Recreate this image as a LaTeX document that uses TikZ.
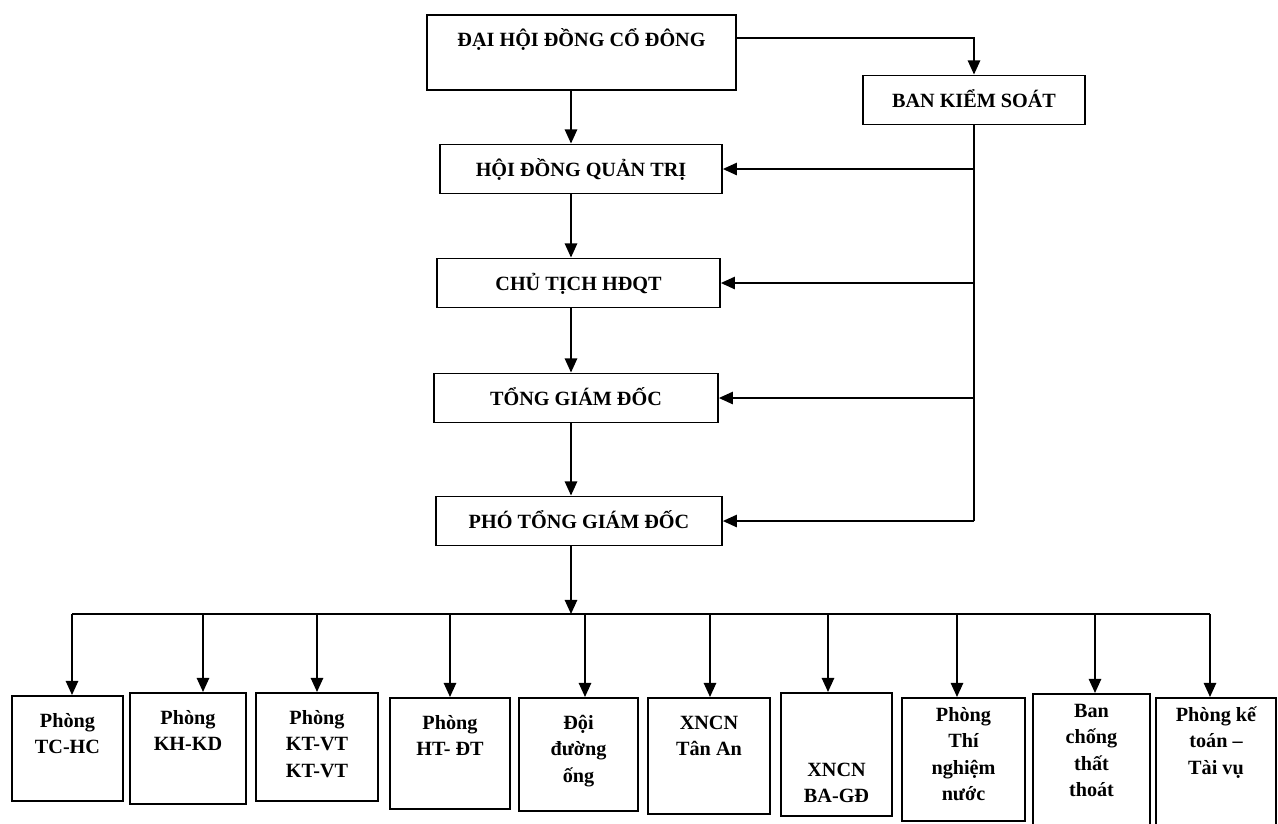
\documentclass[tikz,border=0pt]{standalone}
\usepackage{fontspec}
\setmainfont{Liberation Serif}
\usepackage{tikz}
\usetikzlibrary{arrows.meta,positioning,calc}
\newcommand{\celltext}[3][7.5pt]{\parbox[c][#2][t]{2.1cm}{\centering\vspace*{#1}\strut #3}}

\begin{document}
\begin{tikzpicture}[x=0.02cm,y=-0.02cm,
  font=\fontsize{11.5}{15}\selectfont\bfseries,
  head/.style={draw,line width=1pt,inner sep=0pt,text height=18pt,text depth=10pt},
  unit/.style={draw,line width=1pt,inner sep=0pt,anchor=north},
  line/.style={line width=1pt},
  arr/.style={line width=1pt,-{Triangle[length=8pt,width=7pt]}}]
  \fill[white] (0,0) rectangle (1278,823);
  \useasboundingbox (0,0) rectangle (1278,823);
  \node[head,minimum width=6.18cm,text depth=24.5pt] (dhdcd) at (581.5,52.5) {ĐẠI HỘI ĐỒNG CỔ ĐÔNG};
  \node[head,minimum width=4.44cm] (bks) at (974,100) {BAN KIỂM SOÁT};
  \node[head,minimum width=5.64cm] (hdqt) at (581,169) {HỘI ĐỒNG QUẢN TRỊ};
  \node[head,minimum width=5.66cm] (ct) at (578.5,283) {CHỦ TỊCH HĐQT};
  \node[head,minimum width=5.68cm] (tgd) at (576,398) {TỔNG GIÁM ĐỐC};
  \node[head,minimum width=5.72cm] (ptgd) at (579,521) {PHÓ TỔNG GIÁM ĐỐC};
  \node[unit,minimum width=2.22cm] (tchc) at (67.5,695) {\celltext{2.1cm}{Phòng\\TC-HC}};
  \node[unit,minimum width=2.32cm] (khkd) at (188,692) {\celltext{2.22cm}{Phòng\\KH-KD}};
  \node[unit,minimum width=2.44cm] (ktvt) at (317,692) {\celltext{2.16cm}{Phòng\\KT-VT\\KT-VT}};
  \node[unit,minimum width=2.4cm] (htdt) at (450,697) {\celltext{2.22cm}{Phòng\\HT- ĐT}};
  \node[unit,minimum width=2.38cm] (doi) at (578.5,697) {\celltext{2.26cm}{Đội\\đường\\ống}};
  \node[unit,minimum width=2.44cm] (tanan) at (709,697) {\celltext{2.32cm}{XNCN\\Tân An}};
  \node[unit,minimum width=2.22cm] (bagd) at (836.5,692) {\celltext[37pt]{2.46cm}{XNCN\\BA-GĐ}};
  \node[unit,minimum width=2.46cm] (tn) at (963.5,697) {\celltext[3pt]{2.46cm}{Phòng\\Thí\\nghiệm\\nước}};
  \node[unit,minimum width=2.34cm] (bcct) at (1091.5,693) {\celltext[3pt]{2.8cm}{Ban\\chống\\thất\\thoát}};
  \node[unit,minimum width=2.4cm] (ktv) at (1216,697) {\celltext[3pt]{2.8cm}{Phòng kế\\toán –\\Tài vụ}};
  \coordinate (trunk) at (571,0);
  \coordinate (bus) at (571,614);
  \draw[arr] ([yshift=0.29cm]dhdcd.east) -| (bks.north);
  \draw[arr] (dhdcd.south -| trunk) -- (hdqt.north -| trunk);
  \draw[arr] (hdqt.south -| trunk) -- (ct.north -| trunk);
  \draw[arr] (ct.south -| trunk) -- (tgd.north -| trunk);
  \draw[arr] (tgd.south -| trunk) -- (ptgd.north -| trunk);
  \draw[arr] (ptgd.south -| trunk) -- (bus);
  \draw[line] (bks.south) -- (bks.south |- ptgd.east);
  \foreach \n in {hdqt,ct,tgd,ptgd}
    \draw[arr] (bks.south |- \n.east) -- (\n.east);
  \draw[line] (72,614) -- (1210,614);
  \foreach \n/\xx in {tchc/72,khkd/203,ktvt/317,htdt/450,doi/585,tanan/710,bagd/828,tn/957,bcct/1095,ktv/1210}
    \draw[arr] (\xx,614) -- (\n.north -| \xx,0);
\end{tikzpicture}
\end{document}
